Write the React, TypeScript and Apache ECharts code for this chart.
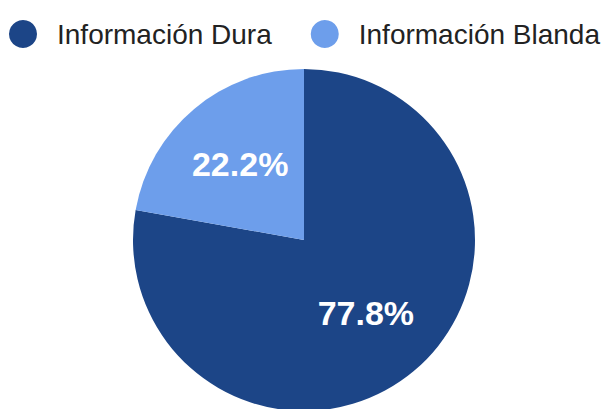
import React, { useEffect, useRef } from "react";
import * as echarts from "echarts";

const categories = ["Información Dura", "Información Blanda"];
const values = [77.8, 22.2];
const colors = ["#1c4587", "#6d9eeb"];
const labelOffsets = [[5, 5], [-7, -8]];

export default function App() {
  const ref = useRef<HTMLDivElement>(null);
  useEffect(() => {
    if (!ref.current) return;
    const chart = echarts.init(ref.current, null, { renderer: "svg" });
    chart.setOption({
      animation: false,
      color: colors,
      legend: {
        top: 20,
        left: 9,
        padding: 0,
        icon: "circle",
        itemWidth: 28,
        itemHeight: 28,
        itemGap: 39,
        textStyle: {
          fontFamily: "Liberation Sans, Arial, sans-serif",
          fontSize: 28,
          color: "#222222",
          padding: [0, 0, 0, 15],
        },
        data: categories,
      },
      series: [
        {
          type: "pie",
          center: [304, 240],
          radius: 171,
          startAngle: 90,
          clockwise: true,
          label: {
            show: true,
            position: "inside",
            formatter: (p: any) => p.value.toFixed(1) + "%",
            color: "#ffffff",
            fontFamily: "Liberation Sans, Arial, sans-serif",
            fontWeight: "bold",
            fontSize: 34,
          },
          labelLine: { show: false },
          emphasis: { disabled: true },
          data: categories.map((c, i) => ({
            name: c,
            value: values[i],
            label: { offset: labelOffsets[i] },
          })),
        },
      ],
    });
    return () => chart.dispose();
  }, []);
  return (
    <div
      ref={ref}
      style={{ position: "fixed", left: 0, top: 0, width: 601, height: 409, background: "#ffffff" }}
    />
  );
}
